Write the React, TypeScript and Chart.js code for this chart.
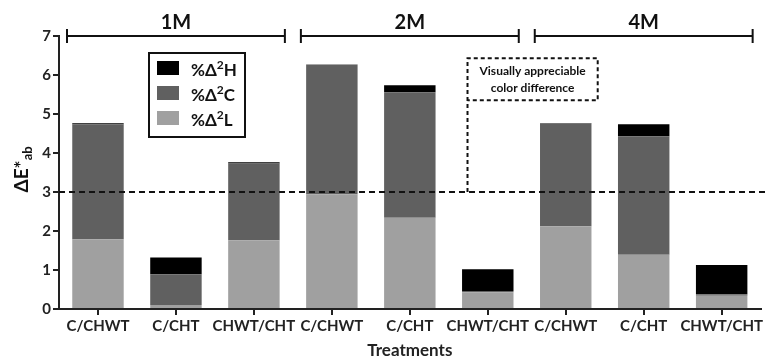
import React, { useEffect, useRef } from "react";
import { Chart, registerables } from "chart.js";

Chart.register(...registerables);

const categories = ["C/CHWT", "C/CHT", "CHWT/CHT", "C/CHWT", "C/CHT", "CHWT/CHT", "C/CHWT", "C/CHT", "CHWT/CHT"];
const lValues = [1.79, 0.1, 1.76, 2.94, 2.34, 0.43, 2.12, 1.39, 0.34];
const cValues = [2.95, 0.79, 1.97, 3.32, 3.22, 0.03, 2.63, 3.04, 0.04];
const hValues = [0.02, 0.43, 0.03, 0.01, 0.18, 0.56, 0.01, 0.31, 0.75];
const groups = ["1M", "2M", "4M"];
const yTicks = [0, 1, 2, 3, 4, 5, 6, 7];
const threshold = 3;

const FONT = "Lato, 'Open Sans', sans-serif";
const COL_H = "#000000";
const COL_C = "#606060";
const COL_L = "#a0a0a0";

const overlay = {
  id: "overlay",
  afterDraw(chart: any) {
    const ctx = chart.ctx;
    const ca = chart.chartArea;
    const y = chart.scales.y;
    const n = categories.length;
    const step = (ca.right - ca.left) / n;
    ctx.save();
    ctx.strokeStyle = "#111";
    ctx.fillStyle = "#111";

    // threshold dashed line
    const y3 = y.getPixelForValue(threshold);
    ctx.lineWidth = 2;
    ctx.setLineDash([6, 4]);
    ctx.beginPath();
    ctx.moveTo(ca.left, y3);
    ctx.lineTo(chart.width, y3);
    ctx.stroke();

    // dashed annotation box
    const bx0 = ca.left + step * 5.24;
    const bx1 = ca.left + step * 6.91;
    const by0 = y.getPixelForValue(6.43);
    const by1 = y.getPixelForValue(5.35);
    ctx.setLineDash([4, 3]);
    ctx.beginPath();
    ctx.moveTo(bx0, y3);
    ctx.lineTo(bx0, by0);
    ctx.lineTo(bx1, by0);
    ctx.lineTo(bx1, by1);
    ctx.lineTo(bx0, by1);
    ctx.stroke();
    ctx.setLineDash([]);
    ctx.font = `bold 12px ${FONT}`;
    ctx.textAlign = "center";
    ctx.textBaseline = "middle";
    const bcx = (bx0 + bx1) / 2;
    ctx.fillText("Visually appreciable", bcx, by0 + 13);
    ctx.fillText("color difference", bcx, by0 + 30);

    // group brackets
    const y7 = y.getPixelForValue(7);
    ctx.lineWidth = 2;
    groups.forEach((g, i) => {
      const x0 = ca.left + step * 3 * i + 8;
      const x1 = ca.left + step * 3 * (i + 1) - 8;
      ctx.beginPath();
      ctx.moveTo(x0, y7);
      ctx.lineTo(x1, y7);
      ctx.moveTo(x0, y7 - 7);
      ctx.lineTo(x0, y7 + 7);
      ctx.moveTo(x1, y7 - 7);
      ctx.lineTo(x1, y7 + 7);
      ctx.stroke();
      ctx.font = `bold 20px ${FONT}`;
      ctx.textAlign = "center";
      ctx.textBaseline = "middle";
      ctx.fillText(g, (x0 + x1) / 2, y7 - 13);
    });

    // legend
    const lx = 149, ly = 53, lw = 96, lh = 84;
    ctx.lineWidth = 2;
    ctx.strokeRect(lx, ly, lw, lh);
    const items = [
      { c: COL_H, t: "H" },
      { c: COL_C, t: "C" },
      { c: COL_L, t: "L" },
    ];
    items.forEach((it, i) => {
      const sy = ly + 8 + i * 25;
      ctx.fillStyle = it.c;
      ctx.fillRect(lx + 8, sy, 22, 14);
      ctx.fillStyle = "#111";
      ctx.textAlign = "left";
      ctx.textBaseline = "alphabetic";
      ctx.font = `bold 17px ${FONT}`;
      let tx = lx + 42;
      const base = sy + 15;
      ctx.fillText("%Δ", tx, base);
      tx += ctx.measureText("%Δ").width;
      ctx.font = `bold 12px ${FONT}`;
      ctx.fillText("2", tx, base - 7);
      tx += ctx.measureText("2").width;
      ctx.font = `bold 17px ${FONT}`;
      ctx.fillText(it.t, tx, base);
    });

    // y-axis title with subscript
    ctx.save();
    ctx.translate(22, (ca.top + ca.bottom) / 2 - 3);
    ctx.rotate(-Math.PI / 2);
    const main = "ΔE*";
    ctx.font = `bold 13px ${FONT}`;
    const subW = ctx.measureText("ab").width;
    ctx.font = `bold 19px ${FONT}`;
    const mainW = ctx.measureText(main).width;
    const total = mainW + subW;
    ctx.textAlign = "left";
    ctx.textBaseline = "alphabetic";
    ctx.fillStyle = "#111";
    ctx.fillText(main, -total / 2, 6);
    ctx.font = `bold 13px ${FONT}`;
    ctx.fillText("ab", -total / 2 + mainW, 10);
    ctx.restore();

    ctx.restore();
  },
};

export default function App() {
  const ref = useRef<HTMLCanvasElement>(null);
  useEffect(() => {
    if (!ref.current) return;
    const chart = new Chart(ref.current, {
      type: "bar",
      data: {
        labels: categories,
        datasets: [
          { label: "%Δ²L", data: lValues, backgroundColor: COL_L },
          { label: "%Δ²C", data: cValues, backgroundColor: COL_C },
          { label: "%Δ²H", data: hValues, backgroundColor: COL_H },
        ],
      },
      options: {
        animation: false,
        responsive: false,
        layout: { padding: { top: 36, right: 1, left: 0, bottom: 0 } },
        datasets: { bar: { barPercentage: 0.66, categoryPercentage: 1 } },
        plugins: { legend: { display: false }, tooltip: { enabled: false } },
        scales: {
          x: {
            stacked: true,
            grid: { display: true, drawOnChartArea: false, drawTicks: true, tickLength: 6, offset: false, color: "#222", lineWidth: 2 },
            border: { display: true, color: "#222", width: 2 },
            ticks: { color: "#222", font: { family: FONT, size: 15, weight: "bold" }, padding: 2, maxRotation: 0, autoSkip: false },
            title: { display: true, text: "Treatments", color: "#222", font: { family: FONT, size: 17, weight: "bold" }, padding: { top: 1, bottom: 0 } },
            afterFit: (s: any) => { s.height = 52; },
          },
          y: {
            stacked: true,
            min: 0,
            max: 7,
            afterBuildTicks: (s: any) => { s.ticks = yTicks.map((v) => ({ value: v })); },
            grid: { display: true, drawOnChartArea: false, drawTicks: true, tickLength: 6, color: "#222", lineWidth: 2 },
            border: { display: true, color: "#222", width: 2 },
            ticks: { color: "#222", font: { family: FONT, size: 15, weight: "bold" }, padding: 2 },
            afterFit: (s: any) => { s.width = 59; },
          },
        },
      },
      plugins: [overlay],
    });
    return () => chart.destroy();
  }, []);
  return (
    <div style={{ position: "fixed", left: 0, top: 0, width: 765, height: 361, background: "#fff" }}>
      <canvas ref={ref} width={765} height={361} />
    </div>
  );
}
